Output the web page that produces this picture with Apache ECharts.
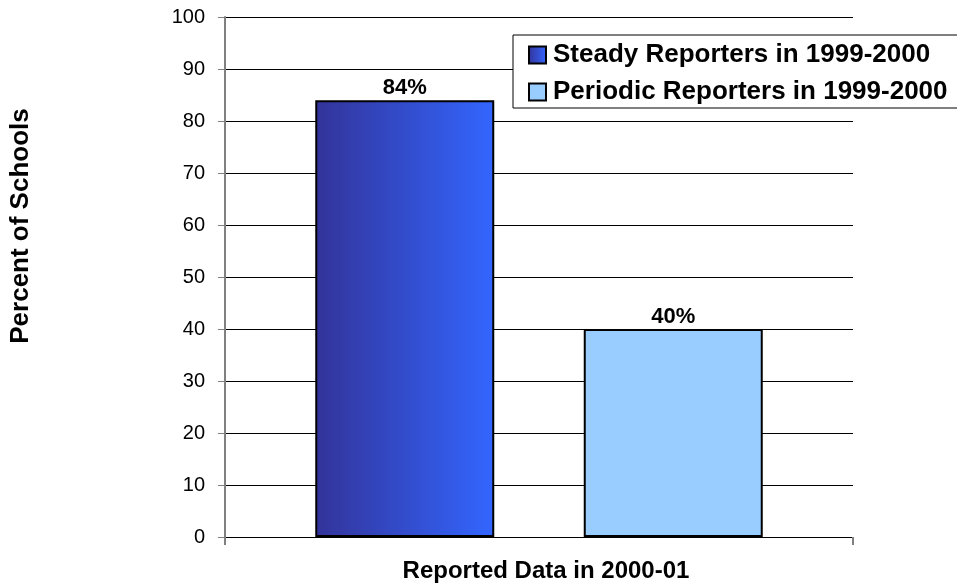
<!DOCTYPE html>
<html>
<head>
<meta charset="utf-8">
<script src="https://cdn.jsdelivr.net/npm/echarts@6/dist/echarts.min.js"></script>
<style>
  html, body { margin: 0; padding: 0; background: #fff; }
  #chart { width: 957px; height: 584px; }
</style>
</head>
<body>
<div id="chart"></div>
<script>
// values
const categories = ['']
const seriesNames = ['Steady Reporters in 1999-2000', 'Periodic Reporters in 1999-2000']
const steadyValues = [84]
const periodicValues = [40]
const yTicks = [0, 10, 20, 30, 40, 50, 60, 70, 80, 90, 100]
const xTitle = 'Reported Data in 2000-01'
const yTitle = 'Percent of Schools'

const FONT = '"Liberation Sans", Arial, sans-serif'

const chart = echarts.init(document.getElementById('chart'))

const steadyColor = new echarts.graphic.LinearGradient(0, 0, 1, 0, [
  { offset: 0, color: '#333399' },
  { offset: 1, color: '#3366ff' }
])

const barLabel = {
  show: true,
  position: 'top',
  distance: 1,
  formatter: '{c}%',
  color: '#000',
  fontFamily: FONT,
  fontWeight: 'bold',
  fontSize: 22
}

const option = {
  backgroundColor: '#fff',
  animation: false,
  grid: { left: 225, right: 104, top: 17, bottom: 47, outerBoundsMode: 'none' },
  // y title sits a bit above the middle of the axis in the original
  graphic: [{
    type: 'text',
    rotation: Math.PI / 2,
    x: 21,
    y: 226,
    style: {
      text: yTitle,
      align: 'center',
      verticalAlign: 'middle',
      fontFamily: FONT,
      fontWeight: 'bold',
      fontSize: 26,
      fill: '#000'
    }
  }],
  legend: {
    orient: 'vertical',
    left: 513,
    top: 35,
    padding: [6, 15, 2, 15],
    itemGap: 9,
    itemWidth: 17,
    itemHeight: 17,
    icon: 'rect',
    backgroundColor: '#fff',
    borderColor: '#000',
    borderWidth: 1,
    borderRadius: 0,
    textStyle: {
      fontFamily: FONT,
      fontWeight: 'bold',
      fontSize: 26,
      lineHeight: 28,
      color: '#000',
      padding: [0, 0, 0, 2]
    },
    data: seriesNames
  },
  xAxis: {
    type: 'category',
    data: categories,
    name: xTitle,
    nameLocation: 'middle',
    nameGap: 22,
    nameTextStyle: {
      fontFamily: FONT, fontWeight: 'bold', fontSize: 24, color: '#000',
      padding: [0, 0, 0, 14]
    },
    axisLine: { lineStyle: { color: '#000', width: 1 } },
    axisTick: { show: true, length: 8, lineStyle: { color: '#808080', width: 2 } },
    axisLabel: { show: false }
  },
  yAxis: {
    type: 'value',
    min: yTicks[0],
    max: yTicks[yTicks.length - 1],
    interval: yTicks[1] - yTicks[0],
    axisLine: { show: true, lineStyle: { color: '#808080', width: 2 } },
    axisTick: { show: true, length: 7, lineStyle: { color: '#808080', width: 1 } },
    axisLabel: { margin: 20, fontFamily: FONT, fontSize: 20, color: '#000' },
    splitLine: { lineStyle: { color: '#000', width: 1 } }
  },
  series: [
    {
      name: seriesNames[0],
      type: 'bar',
      data: steadyValues,
      barWidth: 179,
      barGap: '50%',
      itemStyle: { color: steadyColor, borderColor: '#000', borderWidth: 2 },
      label: barLabel
    },
    {
      name: seriesNames[1],
      type: 'bar',
      data: periodicValues,
      barWidth: 179,
      itemStyle: { color: '#99ccff', borderColor: '#000', borderWidth: 2 },
      label: barLabel
    }
  ]
}

chart.setOption(option)
</script>
</body>
</html>
